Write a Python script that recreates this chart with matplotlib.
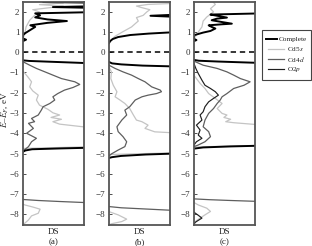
import matplotlib
matplotlib.use("Agg")
import matplotlib.pyplot as plt
from matplotlib.lines import Line2D
from matplotlib.patches import Rectangle

plt.rcParams['font.family'] = ['Liberation Serif', 'DejaVu Serif']
plt.rcParams['mathtext.fontset'] = 'stix'

# ---------------- data (energy in eV, DOS as fraction of panel width; >1 = off scale) -------------
series_names = ["Complete", "Cd5$s$", "Cd4$d$", "O2$p$"]
series_colors = ["#000000", "#c4c4c4", "#5e5e5e", "#1e1e1e"]
series_widths = [1.4, 0.9, 0.9, 0.85]
panel_labels = ["(a)", "(b)", "(c)"]
xlabel_text = "DS"
ylabel_text = "$E$–$E$$_F$, eV"
yticks = [2, 1, 0, -1, -2, -3, -4, -5, -6, -7, -8]

# panel (a)
a_complete_E = [0.55, 0.62, 0.68, 0.85, 0.95, 1.1, 1.25, 1.33, 1.45, 1.54, 1.62, 1.72, 1.82, 1.92, 1.99,
                2.18, 2.23, 2.28, 2.44, 2.48, 2.52, 2.6]
a_complete_D = [0.0, 0.05, 0.0, 0.0, 0.04, 0.12, 0.2, 0.12, 0.4, 0.72, 0.4, 0.2, 0.28, 0.2, 1.3,
                1.3, 0.49, 1.3, 1.3, 0.33, 1.3, 1.3]
a_complete_vE = [-0.40, -0.43, -0.47, -0.52, -0.57, -4.70, -4.75, -4.79, -4.85, -4.91]
a_complete_vD = [0.0, 0.1, 0.45, 0.9, 1.3, 1.3, 0.6, 0.15, 0.04, 0.0]
a_cd5s_E = [0.67, 0.92, 1.25, 1.58, 1.82, 1.99, 2.10, 2.20, 2.28, 2.35, 2.43, 2.51]
a_cd5s_D = [0.0, 0.03, 0.05, 0.11, 0.19, 0.27, 0.16, 0.44, 0.66, 0.27, 0.66, 0.49]
a_cd5s_vE = [-0.97, -1.22, -1.46, -1.71, -1.91, -2.12, -2.36, -2.61, -2.82, -2.99, -3.10, -3.22,
             -3.31, -3.43, -3.55, -3.68, -3.72, -4.65, -4.75]
a_cd5s_vD = [0.01, 0.08, 0.14, 0.11, 0.16, 0.25, 0.22, 0.27, 0.41, 0.49, 0.60, 0.46,
             0.63, 0.49, 0.60, 0.98, 1.3, 1.3, 0.0]
a_cd5s_bE = [-7.50, -7.54, -7.65, -7.75, -7.95, -8.08, -8.28, -8.44, -8.52]
a_cd5s_bD = [0.0, 0.03, 0.17, 0.28, 0.25, 0.14, 0.09, 0.03, 0.0]
a_cd4d_E = [-0.47, -0.64, -0.80, -0.97, -1.13, -1.30, -1.38, -1.46, -1.59, -1.74, -1.87, -2.04, -2.20,
            -2.36, -2.53, -2.69, -2.86, -3.10, -3.27, -3.43, -3.51, -3.76, -4.00, -4.25, -4.42, -4.66, -4.83, -4.91]
a_cd4d_D = [0.0, 0.11, 0.22, 0.36, 0.49, 0.63, 0.74, 0.85, 0.93, 0.82, 0.68, 0.57, 0.49,
            0.52, 0.44, 0.33, 0.30, 0.25, 0.14, 0.19, 0.09, 0.17, 0.06, 0.22, 0.14, 0.09, 0.02, 0.0]
a_cd4d_bE = [-7.27, -7.32, -7.37, -7.42, -7.46, -8.6]
a_cd4d_bD = [0.0, 0.25, 0.6, 1.0, 1.3, 1.3]

# panel (b)
b_complete_E = [0.45, 0.55, 0.65, 0.75, 0.85, 0.92, 0.97, 1.02, 1.72, 1.80, 1.88, 2.6]
b_complete_D = [0.0, 0.02, 0.06, 0.15, 0.35, 0.65, 0.95, 1.3, 1.3, 0.68, 1.3, 1.3]
b_complete_vE = [-0.48, -0.55, -0.60, -0.66, -0.72, -4.98, -5.05, -5.12, -5.18, -5.22]
b_complete_vD = [0.0, 0.05, 0.2, 0.55, 1.3, 1.3, 0.6, 0.2, 0.05, 0.0]
b_cd5s_E = [0.52, 0.59, 0.79, 1.00, 1.25, 1.41, 1.54, 1.71, 1.82, 1.99, 2.10, 2.20, 2.28, 2.36, 2.40, 2.45]
b_cd5s_D = [0.0, 0.03, 0.10, 0.22, 0.37, 0.43, 0.48, 0.45, 0.56, 0.62, 0.67, 0.54, 0.45, 0.64, 0.97, 1.3]
b_cd5s_vE = [-0.72, -0.97, -1.30, -1.63, -1.95, -2.20, -2.36, -2.53, -2.78, -3.10, -3.35, -3.43,
             -3.60, -3.76, -3.93, -3.97, -4.02, -4.95, -5.05]
b_cd5s_vD = [0.0, 0.04, 0.03, 0.07, 0.13, 0.10, 0.18, 0.26, 0.34, 0.40, 0.45, 0.54,
             0.64, 0.59, 0.75, 1.0, 1.3, 1.3, 0.0]
b_cd5s_bE = [-7.87, -8.03, -8.24, -8.36, -8.47, -8.53]
b_cd5s_bD = [0.0, 0.15, 0.29, 0.21, 0.04, 0.0]
b_cd4d_E = [-0.64, -0.80, -0.97, -1.13, -1.30, -1.46, -1.71, -1.87, -1.95, -2.04, -2.12, -2.20, -2.36,
            -2.69, -2.86, -3.10, -3.35, -3.68, -3.92, -4.17, -4.42, -4.66, -4.83, -5.02, -5.12]
b_cd4d_D = [0.0, 0.10, 0.23, 0.37, 0.48, 0.59, 0.70, 0.84, 0.86, 0.78, 0.64, 0.54, 0.43,
            0.34, 0.26, 0.29, 0.21, 0.13, 0.15, 0.23, 0.29, 0.26, 0.15, 0.04, 0.0]
b_cd4d_bE = [-7.62, -7.68, -7.74, -7.80, -7.84, -8.6]
b_cd4d_bD = [0.0, 0.2, 0.6, 1.0, 1.3, 1.3]

# panel (c)
c_complete_E = [0.55, 0.60, 0.66, 0.84, 0.97, 1.05, 1.17, 1.25, 1.33, 1.38, 1.41, 1.49, 1.58, 1.66,
                1.71, 1.79, 1.86, 1.91, 1.95, 2.6]
c_complete_D = [0.0, 0.04, 0.0, 0.0, 0.15, 0.27, 0.35, 0.29, 0.24, 0.46, 0.62, 0.46, 0.29, 0.38,
                0.54, 0.40, 0.27, 0.98, 1.3, 1.3]
c_complete_vE = [-0.38, -0.42, -0.46, -0.50, -0.55, -4.60, -4.65, -4.70, -4.76]
c_complete_vD = [0.0, 0.08, 0.4, 0.8, 1.3, 1.3, 0.6, 0.15, 0.0]
c_cd5s_E = [0.67, 1.00, 1.25, 1.54, 1.74, 1.99, 2.15, 2.36, 2.56]
c_cd5s_D = [0.0, 0.07, 0.13, 0.15, 0.21, 0.32, 0.27, 0.35, 0.29]
c_cd5s_vE = [-1.22, -1.54, -1.79, -2.04, -2.28, -2.53, -2.78, -3.02, -3.10, -3.22, -3.31, -3.43,
             -3.48, -3.56, -3.60, -4.58, -4.68]
c_cd5s_vD = [0.02, 0.10, 0.18, 0.24, 0.35, 0.46, 0.38, 0.46, 0.54, 0.49, 0.60, 0.52,
             0.65, 0.98, 1.3, 1.3, 0.0]
c_cd5s_bE = [-7.42, -7.54, -7.70, -7.86, -8.03, -8.19, -8.36, -8.45]
c_cd5s_bD = [0.0, 0.07, 0.21, 0.27, 0.18, 0.10, 0.02, 0.0]
c_cd4d_E = [-0.44, -0.64, -0.80, -0.97, -1.13, -1.30, -1.46, -1.63, -1.79, -2.04, -2.20, -2.36, -2.53,
            -2.78, -3.02, -3.35, -3.68, -3.92, -4.17, -4.42, -4.58, -4.66]
c_cd4d_D = [0.0, 0.15, 0.38, 0.54, 0.65, 0.76, 0.92, 0.82, 0.65, 0.54, 0.46, 0.43, 0.38,
            0.32, 0.24, 0.18, 0.15, 0.24, 0.27, 0.18, 0.07, 0.0]
c_cd4d_bE = [-7.24, -7.28, -7.32, -7.36, -7.40, -8.6]
c_cd4d_bD = [0.0, 0.25, 0.6, 1.0, 1.3, 1.3]
c_o2p_E = [-0.56, -0.80, -1.05, -1.38, -1.63, -1.79, -1.95, -2.12, -2.28, -2.45, -2.69, -2.94, -3.10,
           -3.35, -3.60, -3.84, -4.09, -4.25, -4.42, -4.58]
c_o2p_D = [0.0, 0.03, 0.07, 0.13, 0.18, 0.27, 0.35, 0.40, 0.32, 0.24, 0.18, 0.15, 0.10,
           0.13, 0.04, 0.10, 0.07, 0.13, 0.04, 0.0]
c_o2p_bE = [-7.90, -8.05, -8.19, -8.32, -8.40, -8.50]
c_o2p_bD = [0.0, 0.07, 0.13, 0.06, 0.02, 0.0]

panels = [
    {"Complete": [(a_complete_E, a_complete_D), (a_complete_vE, a_complete_vD)],
     "Cd5s": [(a_cd5s_E, a_cd5s_D), (a_cd5s_vE, a_cd5s_vD), (a_cd5s_bE, a_cd5s_bD)],
     "Cd4d": [(a_cd4d_E, a_cd4d_D), (a_cd4d_bE, a_cd4d_bD)],
     "O2p": []},
    {"Complete": [(b_complete_E, b_complete_D), (b_complete_vE, b_complete_vD)],
     "Cd5s": [(b_cd5s_E, b_cd5s_D), (b_cd5s_vE, b_cd5s_vD), (b_cd5s_bE, b_cd5s_bD)],
     "Cd4d": [(b_cd4d_E, b_cd4d_D), (b_cd4d_bE, b_cd4d_bD)],
     "O2p": []},
    {"Complete": [(c_complete_E, c_complete_D), (c_complete_vE, c_complete_vD)],
     "Cd5s": [(c_cd5s_E, c_cd5s_D), (c_cd5s_vE, c_cd5s_vD), (c_cd5s_bE, c_cd5s_bD)],
     "Cd4d": [(c_cd4d_E, c_cd4d_D), (c_cd4d_bE, c_cd4d_bD)],
     "O2p": [(c_o2p_E, c_o2p_D), (c_o2p_bE, c_o2p_bD)]},
]
keys = ["Complete", "Cd5s", "Cd4d", "O2p"]
draw_order = ["Cd5s", "Cd4d", "O2p", "Complete"]

# ---------------- figure ----------------
W, H = 312, 246
fig = plt.figure(figsize=(W / 100, H / 100), dpi=100)
lefts = [23, 109, 194]
pw = 61
top_px, bot_px = 2, 225

for i, (left, pdata) in enumerate(zip(lefts, panels)):
    ax = fig.add_axes([left / W, 1 - bot_px / H, pw / W, (bot_px - top_px) / H])
    for key in draw_order:
        k = keys.index(key)
        for (E, D) in pdata[key]:
            ax.plot(D, E, color=series_colors[k], lw=series_widths[k], solid_joinstyle='round')
    ax.axhline(0, color='black', lw=1.1, ls=(0, (3.5, 2.5)))
    ax.set_xlim(0, 1)
    ax.set_ylim(-8.53, 2.48)
    ax.set_xticks([])
    ax.set_yticks(yticks)
    ax.set_yticklabels([str(t).replace('-', '\u2212') for t in yticks])
    ax.tick_params(axis='y', direction='in', length=2, width=0.6, labelsize=6.5, pad=2.5,
                   colors='#333333')
    for s in ax.spines.values():
        s.set_color('#555555')
        s.set_linewidth(1.3)
    cx = (left + pw / 2) / W
    fig.text(cx, 1 - 232 / H, xlabel_text, ha='center', va='center', fontsize=6.5, color='#222222')
    fig.text(cx, 1 - 242 / H, panel_labels[i], ha='center', va='center', fontsize=6.5, color='#222222')

fig.text(5 / W, 1 - 110 / H, ylabel_text, rotation=90, ha='center', va='center', fontsize=6.5,
         color='#222222')

# legend (drawn manually in figure pixels)
fig.add_artist(Rectangle((262 / W, 1 - 80 / H), 49 / W, 50 / H, transform=fig.transFigure,
                         fill=False, edgecolor='#444444', lw=0.8))
leg_y = [39, 49, 59, 69]
line_x = [(266, 277), (268, 284), (268, 284), (268, 284)]
text_x = [279, 287, 287, 287]
for k in range(4):
    y = 1 - leg_y[k] / H
    fig.add_artist(Line2D([line_x[k][0] / W, line_x[k][1] / W], [y, y], transform=fig.transFigure,
                          color=series_colors[k], lw=series_widths[k]))
    fig.text(text_x[k] / W, y, series_names[k], ha='left', va='center', fontsize=5.2, color='#222222')

fig.savefig("out.png", dpi=100)
